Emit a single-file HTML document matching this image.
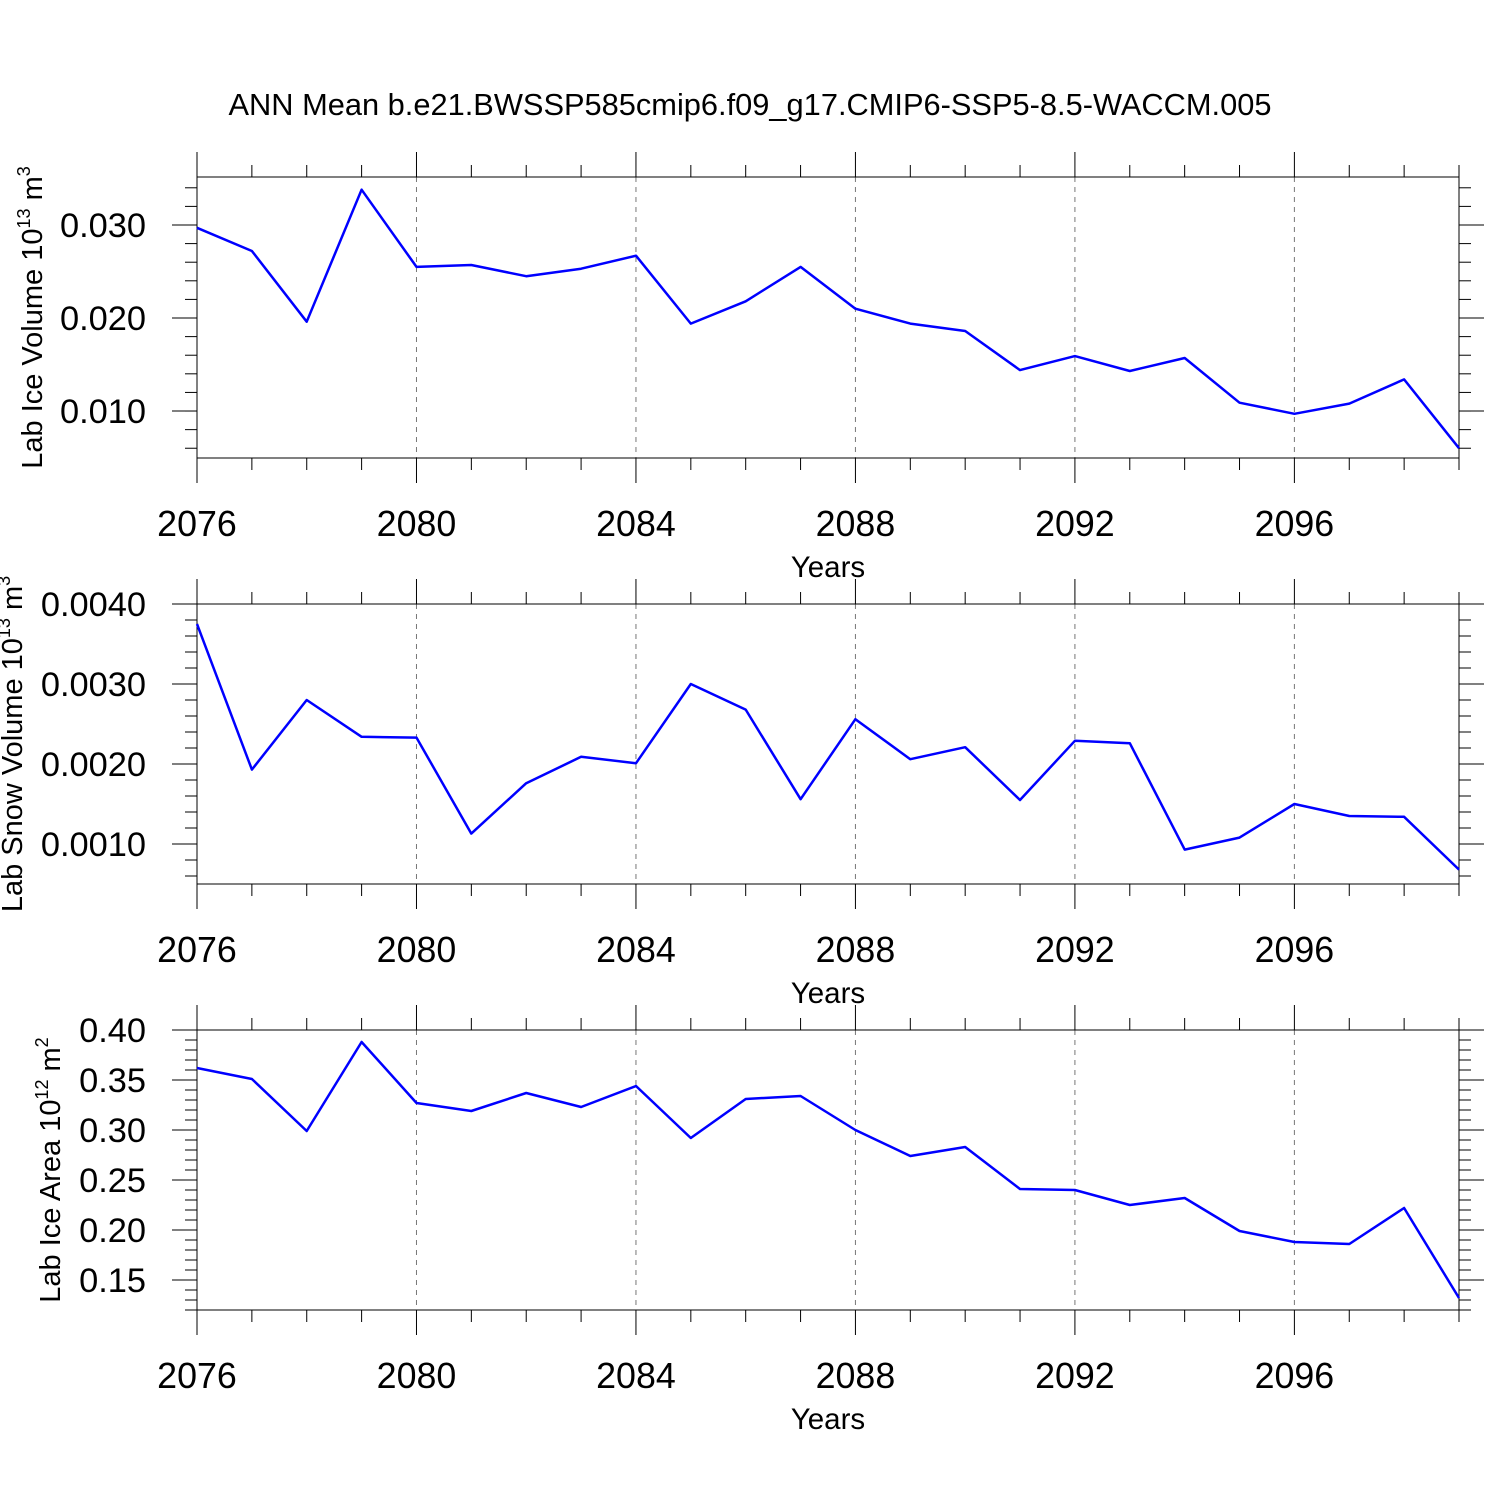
<!DOCTYPE html>
<html><head><meta charset="utf-8"><style>
body{margin:0;background:#fff}
svg{display:block;font-family:"Liberation Sans",sans-serif}
</style></head><body>
<svg id="c" width="1500" height="1500" viewBox="0 0 1500 1500">
<text x="750" y="115" text-anchor="middle" font-size="30.8">ANN Mean b.e21.BWSSP585cmip6.f09_g17.CMIP6-SSP5-8.5-WACCM.005</text>
</svg>
<script>
const years = [2076,2077,2078,2079,2080,2081,2082,2083,2084,2085,2086,2087,2088,2089,2090,2091,2092,2093,2094,2095,2096,2097,2098,2099];
const iceVolume = [0.0297,0.0272,0.0196,0.0338,0.0255,0.0257,0.0245,0.0253,0.0267,0.0194,0.0218,0.0255,0.0210,0.0194,0.0186,0.0144,0.0159,0.0143,0.0157,0.0109,0.0097,0.0108,0.0134,0.0060];
const snowVolume = [0.00375,0.00193,0.0028,0.00234,0.00233,0.00113,0.00176,0.00209,0.00201,0.0030,0.00268,0.00156,0.00256,0.00206,0.00221,0.00155,0.00229,0.00226,0.00093,0.00108,0.0015,0.00135,0.00134,0.00068];
const iceArea = [0.362,0.351,0.299,0.388,0.327,0.319,0.337,0.323,0.344,0.292,0.331,0.334,0.300,0.274,0.283,0.241,0.240,0.225,0.232,0.199,0.188,0.186,0.222,0.132];
const xTicks = [2076,2080,2084,2088,2092,2096];
const iceVolTicks = ["0.010","0.020","0.030"];
const snowTicks = ["0.0010","0.0020","0.0030","0.0040"];
const areaTicks = ["0.15","0.20","0.25","0.30","0.35","0.40"];

const svg = document.getElementById('c');
const NS = 'http://www.w3.org/2000/svg';
function mk(tag, attrs, parent){const e=document.createElementNS(NS,tag);for(const k in attrs)e.setAttribute(k,attrs[k]);(parent||svg).appendChild(e);return e;}
const X0=197,X1=1459;
const xs = y => X0 + (y-2076)/(2099-2076)*(X1-X0);

function panel(name, top, bot, ymin, ymax, vals, ticks, minorStep, title, exp, unitExp, titleX){
  const g = mk('g',{});
  
  
  const ys = v => bot - (v-ymin)/(ymax-ymin)*(bot-top);
  xTicks.slice(1).forEach(t=>{
    const l=mk('line',{x1:xs(t),x2:xs(t),y1:top,y2:bot,stroke:'#777','stroke-width':1,'stroke-dasharray':'5,5'},g);
    
    
  });
  years.forEach(y=>{
    const maj = xTicks.includes(y);
    const L = maj?25:12;
    mk('line',{x1:xs(y),x2:xs(y),y1:top-L,y2:top,stroke:'#000','stroke-width':1},g);
    mk('line',{x1:xs(y),x2:xs(y),y1:bot,y2:bot+L,stroke:'#000','stroke-width':1},g);
  });
  const start = Math.ceil(ymin/minorStep-1e-6);
  for(let i=start;i*minorStep<=ymax+1e-9;i++){
    const v=i*minorStep, y=ys(v);
    if(y<top-0.5||y>bot+0.5) continue;
    mk('line',{x1:X0-12,x2:X0,y1:y,y2:y,stroke:'#000','stroke-width':1},g);
    mk('line',{x1:X1,x2:X1+12,y1:y,y2:y,stroke:'#000','stroke-width':1},g);
  }
  ticks.forEach(t=>{
    const y=ys(parseFloat(t));
    mk('line',{x1:X0-25,x2:X0,y1:y,y2:y,stroke:'#000','stroke-width':1},g);
    mk('line',{x1:X1,x2:X1+25,y1:y,y2:y,stroke:'#000','stroke-width':1},g);
    const tx=mk('text',{x:146,y:y+12,'text-anchor':'end','font-size':34.4},g);
    tx.textContent=t;
    
    
  });
  xTicks.forEach(t=>{
    const tx=mk('text',{x:xs(t),y:bot+78,'text-anchor':'middle','font-size':35.8},g);
    tx.textContent=t;
    
    
  });
  const xt=mk('text',{x:828,y:bot+119,'text-anchor':'middle','font-size':29.5},g);
  xt.textContent='Years';
  
  
  mk('rect',{x:X0,y:top,width:X1-X0,height:bot-top,fill:'none',stroke:'#000','stroke-width':1},g);
  const pts = vals.map((v,i)=>xs(years[i]).toFixed(1)+','+ys(v).toFixed(1)).join(' ');
  const pl=mk('polyline',{points:pts,fill:'none',stroke:'#0000ff','stroke-width':2.5,'stroke-linejoin':'round'},g);
  
  
  const cy=(top+bot)/2;
  const yt=mk('text',{x:titleX,y:cy,'text-anchor':'middle','font-size':29,transform:`rotate(-90 ${titleX} ${cy})`},g);
  
  
  yt.innerHTML = `${title} 10<tspan dy="-12" font-size="18">${exp}</tspan><tspan dy="12"> m</tspan><tspan dy="-12" font-size="18">${unitExp}</tspan>`;
}
panel('ice-volume',177,458,0.00495,0.03516,iceVolume,iceVolTicks,0.002,'Lab Ice Volume','13','3',42);
panel('snow-volume',604,884,0.0005,0.0040,snowVolume,snowTicks,0.0002,'Lab Snow Volume','13','3',22);
panel('ice-area',1030,1310,0.12,0.40,iceArea,areaTicks,0.01,'Lab Ice Area','12','2',60);
</script>
</body></html>
